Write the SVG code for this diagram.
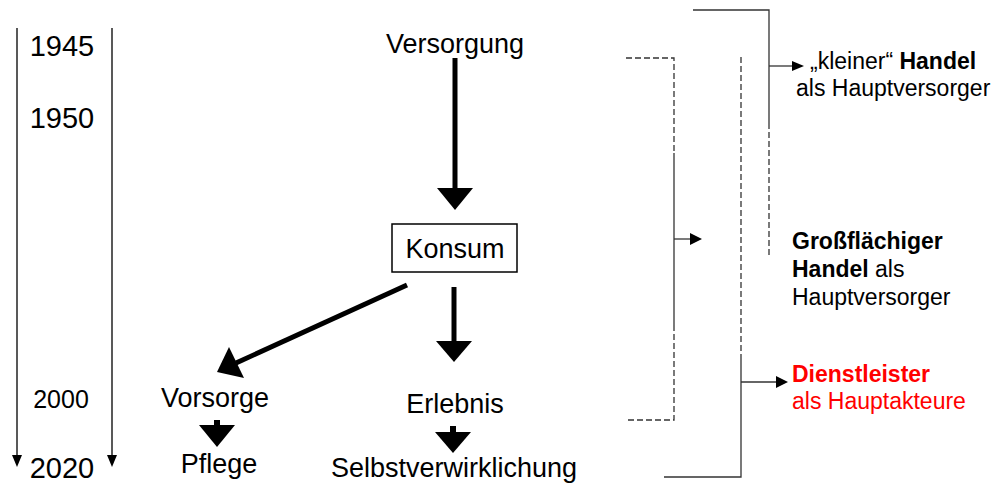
<svg xmlns="http://www.w3.org/2000/svg" width="997" height="489" viewBox="0 0 997 489">
<style>
  text { font-family: "Liberation Sans", Arial, sans-serif; fill: #000; }
  .big { font-size: 27px; }
  .yr { font-size: 29px; }
  .side { font-size: 23px; }
  .b { font-weight: bold; }
  .red { fill: #ff0000; }
  .tl { stroke: #222; stroke-width: 1.5; fill: none; }
  .thin { stroke: #333; stroke-width: 1.3; fill: none; }
  .dash { stroke: #333; stroke-width: 1.3; fill: none; stroke-dasharray: 6 3; }
  .thick { stroke: #000; stroke-width: 5; fill: none; }
  .head { fill: #000; stroke: none; }
</style>

<g id="timeline">
  <line class="tl" x1="17" y1="28" x2="17" y2="456"/>
  <polygon class="head" points="12,455 22,455 17,467"/>
  <line class="tl" x1="112" y1="28" x2="112" y2="456"/>
  <polygon class="head" points="107,455 117,455 112,467"/>
  <text class="yr" x="62" y="56" text-anchor="middle">1945</text>
  <text class="yr" x="62" y="128" text-anchor="middle">1950</text>
  <text class="big" x="61" y="408" text-anchor="middle" style="font-size:25px">2000</text>
  <text class="yr" x="62" y="478" text-anchor="middle">2020</text>
</g>

<g id="versorgung"><text class="big" x="455" y="53" text-anchor="middle">Versorgung</text></g>
<g id="konsum">
  <rect x="392" y="224" width="125" height="48" fill="#fff" stroke="#000" stroke-width="1.5"/>
  <text class="big" x="455" y="258" text-anchor="middle">Konsum</text>
</g>
<g id="vorsorge"><text class="big" x="215" y="407" text-anchor="middle">Vorsorge</text></g>
<g id="pflege"><text class="big" x="219" y="473" text-anchor="middle">Pflege</text></g>
<g id="erlebnis"><text class="big" x="455" y="413" text-anchor="middle">Erlebnis</text></g>
<g id="selbstverwirklichung"><text class="big" x="454" y="477" text-anchor="middle">Selbstverwirklichung</text></g>

<g id="kleiner-handel">
  <text class="side" x="810" y="69">„kleiner“ <tspan class="b">Handel</tspan></text>
  <text class="side" x="796" y="96">als Hauptversorger</text>
</g>
<g id="grossflaechiger-handel">
  <text class="side b" x="792" y="249">Großflächiger</text>
  <text class="side" x="792" y="277"><tspan class="b">Handel</tspan> als</text>
  <text class="side" x="792" y="305">Hauptversorger</text>
</g>
<g id="dienstleister">
  <text class="side b red" x="792" y="382">Dienstleister</text>
  <text class="side red" x="792" y="409">als Hauptakteure</text>
</g>

<g id="connectors">
  <line class="thick" x1="455" y1="58" x2="455" y2="189"/>
  <polygon class="head" points="437,188 473,188 455,210"/>
  <line class="thick" x1="454" y1="287" x2="454" y2="342"/>
  <polygon class="head" points="436,341 472,341 454,362"/>
  <line class="thick" x1="407" y1="285" x2="236" y2="363"/>
  <polygon class="head" points="217,372 229,347 244,378"/>
  <line stroke="#000" stroke-width="6" x1="217" y1="420" x2="217" y2="426"/>
  <polygon class="head" points="199,425 235,425 217,447"/>
  <line stroke="#000" stroke-width="6" x1="453" y1="426" x2="453" y2="433"/>
  <polygon class="head" points="435,432 471,432 453,453"/>

  <polyline class="thin" points="693,10 769,10 769,123"/>
  <line class="dash" x1="769" y1="123" x2="769" y2="258"/>
  <line class="thin" x1="769" y1="66" x2="793" y2="66"/>
  <polygon class="head" points="792,61 792,71 804,66"/>

  <polyline class="dash" points="626,58 674,58 674,153"/>
  <line class="thin" x1="674" y1="153" x2="674" y2="325"/>
  <polyline class="dash" points="674,325 674,420 626,420"/>
  <line class="thin" x1="674" y1="239" x2="691" y2="239"/>
  <polygon class="head" points="690,233 690,245 702,239"/>

  <line class="dash" x1="741" y1="57" x2="741" y2="358"/>
  <polyline class="thin" points="741,358 741,477 664,477"/>
  <line class="thin" x1="741" y1="382" x2="777" y2="382"/>
  <polygon class="head" points="776,376 776,388 788,382"/>
</g>
</svg>
